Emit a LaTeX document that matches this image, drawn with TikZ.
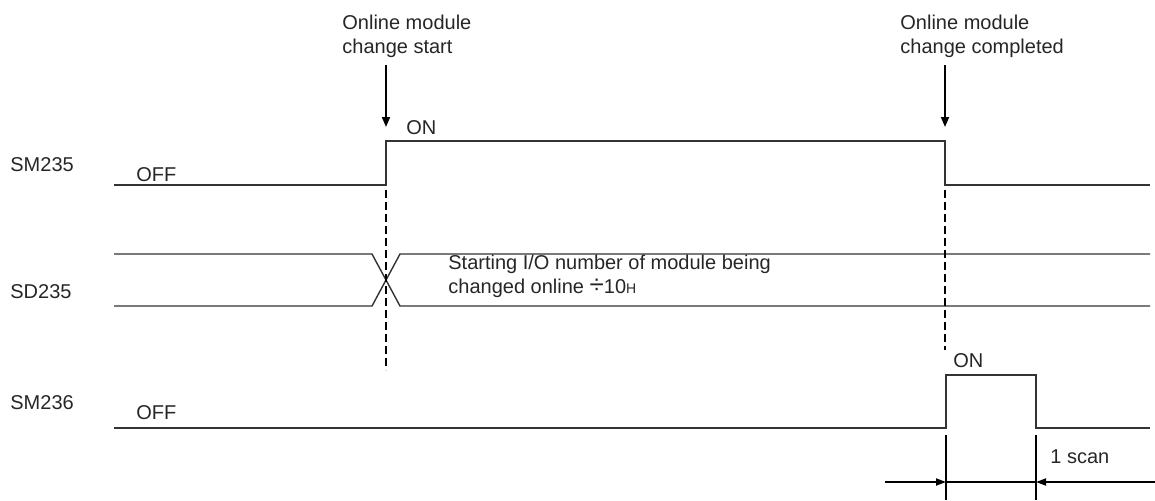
\documentclass[tikz,border=0pt]{standalone}
\usepackage{fontspec}
\setmainfont{Liberation Sans}
\usetikzlibrary{arrows.meta}

\begin{document}
\begin{tikzpicture}[
  x=0.5pt, y=-0.5pt,
  font=\fontsize{10}{12}\selectfont,
  txt/.style={anchor=base west, inner sep=0pt, align=left, text=black!85},
  signal/.style={line width=0.7pt, draw=black!80},
  guide/.style={line width=0.7pt, dash pattern=on 4pt off 2pt},
  marker/.style={-{Triangle[length=5pt,width=4pt]}, line width=0.9pt},
  dim/.style={-{Triangle[length=5pt,width=3.5pt]}, line width=0.9pt}
]
\useasboundingbox (0,0) rectangle (1155,500);

% signal names
\node[txt] (nSMa) at (10,171) {SM235};
\node[txt] (nSD) at (10,298) {SD235};
\node[txt] (nSMb) at (10,409) {SM236};

% key points
\coordinate (riseA) at (386,141);
\coordinate (fallA) at (945,141);
\coordinate (riseB) at (946,375);
\coordinate (fallB) at (1036,375);

% SM235
\draw[signal] (114,185) -| (riseA) -- (fallA) |- (1150,185);
\node[txt] (offA) at (136,181) {OFF};
\node[txt] (onA) at (406,134) {ON};

% SD235
\draw[signal] (114,254) -- (372,254) -- (400,306) -- (1150,306);
\draw[signal] (114,306) -- (372,306) -- (400,254) -- (1150,254);
\node[txt] (value) at (448,293) {Starting I/O number of module being\\changed online {\fontsize{13}{12}\selectfont ÷}10{\fontsize{7}{8}\selectfont H}};

% SM236
\draw[signal] (114,428) -| (riseB) -- (fallB) |- (1150,428);
\node[txt] (offB) at (136,419) {OFF};
\node[txt] (onB) at (953,367) {ON};

% events
\node[txt] (start) at (342,53) {Online module\\change start};
\node[txt] (done) at (900,53) {Online module\\change completed};
\coordinate (startTop) at (386,65);
\coordinate (doneTop) at (945,65);
\draw[marker] (startTop) -- (386,127);
\draw[marker] (doneTop) -- (945,127);
\draw[guide] (386,190) -- (386,370);
\draw[guide] (945,190) -- (945,350);

% 1 scan
\coordinate (scanL) at (946,482);
\coordinate (scanR) at (1036,482);
\draw[line width=0.9pt] (946,435) -- (946,500);
\draw[line width=0.9pt] (1036,435) -- (1036,500);
\draw[line width=0.9pt] (scanL) -- (scanR);
\draw[dim] (885,482) -- (scanL);
\draw[dim] (1155,482) -- (scanR);
\node[txt] (scan) at (1050,463) {1 scan};
\end{tikzpicture}
\end{document}
